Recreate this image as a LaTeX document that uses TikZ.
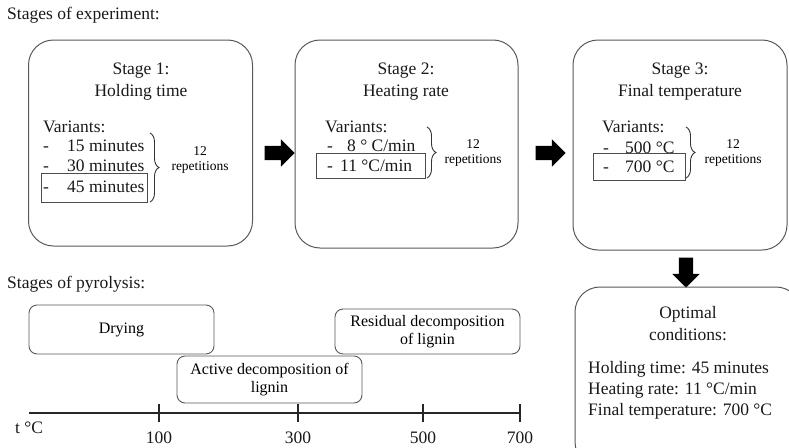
\documentclass[tikz,border=0pt]{standalone}
\usepackage{fontspec}
\setmainfont{Liberation Serif}
\usetikzlibrary{shapes.arrows,decorations.pathreplacing}
\newcommand{\mainsize}{\fontsize{17.5}{22}\selectfont}
\newcommand{\smallsize}{\fontsize{13.5}{15}\selectfont}
\newcommand{\boxsize}{\fontsize{16}{18.5}\selectfont}
\newcommand{\dashitem}[2]{\makebox[#1][l]{-}#2}
\begin{document}
\begin{tikzpicture}[x=1pt,y=-1pt,
  stagebox/.style={draw=black!65,line width=1pt,rounded corners=25pt,inner sep=0},
  phasebox/.style={draw=black!65,line width=0.9pt,rounded corners=8pt,align=center,font=\boxsize,inner sep=0},
  choice/.style={draw=black!70,line width=0.9pt,inner sep=0},
  blockarrow/.style={single arrow,fill=black,draw=none,inner sep=7pt,minimum height=30pt,single arrow head extend=6.5pt,single arrow tip angle=90},
  txt/.style={font=\mainsize,text=black!90,inner sep=0},
  rep/.style={font=\smallsize,align=center,inner sep=0},
  reps/.style={decorate,decoration={brace,amplitude=9pt},line width=0.9pt,black!80}]
\useasboundingbox (0,0) rectangle (789,447);
\clip (0,0) rectangle (789,447);

% experiment stages
\node [txt,anchor=west] (exptitle) at (7,15) {Stages of experiment:};
\node [stagebox,minimum width=224,minimum height=206] (s1) at (140.5,143) {};
\node [stagebox,minimum width=223,minimum height=208] (s2) at (406.5,144) {};
\node [stagebox,minimum width=214,minimum height=210] (s3) at (680,145) {};

\node [txt,align=center] (s1title) at (141,82) {Stage 1:\\Holding time};
\node [txt,align=center] (s2title) at (406,82) {Stage 2:\\Heating rate};
\node [txt,align=center] (s3title) at (680,82) {Stage 3:\\Final temperature};

\node [choice,minimum width=106,minimum height=29] (c1) at (94,187.5) {};
\node [choice,minimum width=109,minimum height=25] (c2) at (370.5,165.5) {};
\node [choice,minimum width=92,minimum height=27] (c3) at (639,166.5) {};

\node [txt,anchor=west] (v1) at (43,127) {Variants:};
\node [txt,anchor=west] (v1a) at (43,146) {\dashitem{24pt}{15 minutes}};
\node [txt,anchor=west] (v1b) at (43,166) {\dashitem{24pt}{30 minutes}};
\node [txt,anchor=west] (v1c) at (43,187) {\dashitem{24pt}{45 minutes}};

\node [txt,anchor=west] (v2) at (325,127) {Variants:};
\node [txt,anchor=west] (v2a) at (327,146) {\dashitem{20pt}{8 ° C/min}};
\node [txt,anchor=west] (v2b) at (327,166) {\dashitem{13pt}{11 °C/min}};

\node [txt,anchor=west] (v3) at (602,127) {Variants:};
\node [txt,anchor=west] (v3a) at (603,148) {\dashitem{22pt}{500 °C}};
\node [txt,anchor=west] (v3b) at (603,167) {\dashitem{22pt}{700 °C}};

\draw [reps] (150,133) -- (150,202) coordinate[midway] (b1);
\draw [reps] (427,127) -- (427,178) coordinate[midway] (b2);
\draw [reps] (686,127) -- (686,178) coordinate[midway] (b3);
\node [rep] (r1) at (200,160) {12\\repetitions};
\node [rep] (r2) at (473,153) {12\\repetitions};
\node [rep] (r3) at (733,153) {12\\repetitions};

\node [blockarrow] (a1) at (276,153) {};
\node [blockarrow] (a2) at (547,153) {};
\node [blockarrow,shape border rotate=270] (a3) at (686,269) {};

% optimal result
\node [stagebox,minimum width=226,minimum height=180] (opt) at (688,377) {};
\node [txt,align=center] (opttitle) at (688,324) {Optimal\\conditions:};
\node [txt,align=left,anchor=west,font=\fontsize{17.5}{21}\selectfont] (optlist) at (588,390)
  {Holding time: 45 minutes\\Heating rate: 11 °C/min\\Final temperature: 700 °C};

% pyrolysis stages
\node [txt,anchor=west] (pyrtitle) at (7,284) {Stages of pyrolysis:};
\node [phasebox,minimum width=185,minimum height=49] (dry) at (121.5,329.5) {Drying};
\node [phasebox,minimum width=185,minimum height=47] (act) at (269.5,379.5) {Active decomposition of\\lignin};
\node [phasebox,minimum width=185,minimum height=45] (res) at (427.5,331.5) {Residual decomposition\\of lignin};

\coordinate (ax0) at (29,413);
\coordinate (ax1) at (520,413);
\draw [line width=1.4pt,black!85] (ax0) -- (ax1);
\node [txt] (tunit) at (29,428) {t °C};
\foreach \x/\lab in {159/100,298/300,423/500,520/700}{
  \draw [line width=1.2pt,black!85] (\x,404) -- (\x,422);
  \node [txt] (t\lab) at (\x,438) {\lab};
}
\end{tikzpicture}
\end{document}
